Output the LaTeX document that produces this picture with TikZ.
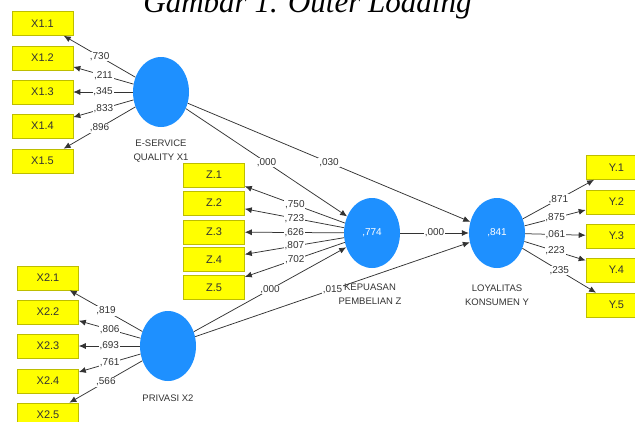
\documentclass[tikz,border=0pt]{standalone}
\usepackage{fontspec}
\setmainfont{Liberation Serif}
\setsansfont{Liberation Sans}
\usetikzlibrary{shapes.geometric,arrows.meta}
\definecolor{indfill}{HTML}{FFFF00}
\definecolor{indedge}{HTML}{BDBD00}
\definecolor{latfill}{HTML}{1E90FF}
\definecolor{ink}{HTML}{333333}
\begin{document}
\begin{tikzpicture}[x=1pt,y=-1pt,
  ind/.style={rectangle,draw=indedge,line width=0.6pt,fill=indfill,
    minimum width=61pt,minimum height=24pt,inner sep=0pt,
    font=\sffamily\fontsize{11}{12}\selectfont,text=ink},
  lat/.style={ellipse,fill=latfill,minimum width=56pt,minimum height=70pt,
    inner sep=0pt,font=\sffamily\fontsize{10}{11}\selectfont,text=white},
  latname/.style={align=center,font=\sffamily\fontsize{9.5}{14.5}\selectfont,text=ink},
  wt/.style={midway,fill=white,inner sep=0.8pt,
    font=\sffamily\fontsize{10}{11}\selectfont,text=ink},
  link/.style={draw=ink,line width=0.75pt,-{Latex[length=7pt,width=6pt]}},
]
\useasboundingbox (0,0) rectangle (635,421);
\clip (0,0) rectangle (635,421);

% caption, cut by the top edge
\node[anchor=base,inner sep=0pt,font=\itshape\fontsize{31}{31}\selectfont]
  (title) at (307.5,12) {Gambar 1. Outer Loading};

% indicator boxes
\node[ind] (x11) at (42.5,23.5) {X1.1};
\node[ind] (x12) at (42.5,58)   {X1.2};
\node[ind] (x13) at (42.5,92)   {X1.3};
\node[ind] (x14) at (42.5,126)  {X1.4};
\node[ind] (x15) at (42.5,161)  {X1.5};

\node[ind] (z1) at (214,175) {Z.1};
\node[ind] (z2) at (214,203) {Z.2};
\node[ind] (z3) at (214,232) {Z.3};
\node[ind] (z4) at (214,259.5) {Z.4};
\node[ind] (z5) at (214,287.5) {Z.5};

\node[ind] (x21) at (48,278) {X2.1};
\node[ind] (x22) at (48,312) {X2.2};
\node[ind] (x23) at (48,346) {X2.3};
\node[ind] (x24) at (48,381) {X2.4};
\node[ind] (x25) at (48,415) {X2.5};

\node[ind] (y1) at (616.5,167.5) {Y.1};
\node[ind] (y2) at (616.5,202)   {Y.2};
\node[ind] (y3) at (616.5,236)   {Y.3};
\node[ind] (y4) at (616.5,270)   {Y.4};
\node[ind] (y5) at (616.5,305)   {Y.5};

% latent variables
\node[lat] (x1) at (161,92)  {};
\node[lat] (z)  at (372,233) {,774};
\node[lat] (x2) at (168,346) {};
\node[lat] (y)  at (497,233) {,841};

\node[latname] (x1name) at (161,151) {E-SERVICE\\QUALITY X1};
\node[latname] (zname)  at (370,294) {KEPUASAN\\PEMBELIAN Z};
\node[latname] (yname)  at (497,295) {LOYALITAS\\KONSUMEN Y};
\node[latname] (x2name) at (168,398) {PRIVASI X2};

% structural paths
\draw[link] (x1) -- node[wt] (p1) {,000} (z);
\draw[link] (x1) -- node[wt] (p2) {,030} (y);
\draw[link] (x2) -- node[wt] (p3) {,000} (z);
\draw[link] (x2) -- node[wt] (p4) {,015} (y);
\draw[link] (z)  -- node[wt] (p5) {,000} (y);

% outer loadings
\draw[link] (x1) -- node[wt] (l11) {,730} (x11);
\draw[link] (x1) -- node[wt] (l12) {,211} (x12);
\draw[link] (x1) -- node[wt] (l13) {,345} (x13);
\draw[link] (x1) -- node[wt] (l14) {,833} (x14);
\draw[link] (x1) -- node[wt] (l15) {,896} (x15);

\draw[link] (z) -- node[wt] (lz5) {,702} (z5);
\draw[link] (z) -- node[wt] (lz4) {,807} (z4);
\draw[link] (z) -- node[wt] (lz3) {,626} (z3);
\draw[link] (z) -- node[wt] (lz2) {,723} (z2);
\draw[link] (z) -- node[wt] (lz1) {,750} (z1);

\draw[link] (x2) -- node[wt] (l21) {,819} (x21);
\draw[link] (x2) -- node[wt] (l22) {,806} (x22);
\draw[link] (x2) -- node[wt] (l23) {,693} (x23);
\draw[link] (x2) -- node[wt] (l24) {,761} (x24);
\draw[link] (x2) -- node[wt] (l25) {,566} (x25);

\draw[link] (y) -- node[wt] (ly1) {,871} (y1);
\draw[link] (y) -- node[wt] (ly2) {,875} (y2);
\draw[link] (y) -- node[wt] (ly3) {,061} (y3);
\draw[link] (y) -- node[wt] (ly4) {,223} (y4);
\draw[link] (y) -- node[wt] (ly5) {,235} (y5);
\end{tikzpicture}
\end{document}
